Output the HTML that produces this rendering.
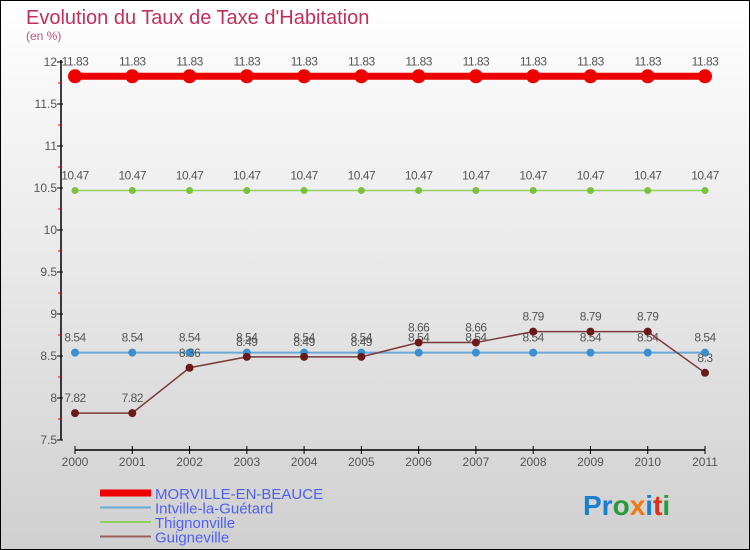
<!DOCTYPE html>
<html><head><meta charset="utf-8"><style>
html,body{margin:0;padding:0}
body{width:750px;height:550px;overflow:hidden;font-family:"Liberation Sans",sans-serif}
svg{display:block}
</style></head><body>
<svg id="chart" width="750" height="550" xmlns="http://www.w3.org/2000/svg">
<defs><linearGradient id="bg" x1="0" y1="0" x2="0" y2="1"><stop offset="0" stop-color="#ffffff"/><stop offset="1" stop-color="#d0d0d0"/></linearGradient></defs>
<rect x="0.5" y="0.5" width="749" height="549" fill="url(#bg)" stroke="#000"/>
<text x="26" y="24" font-size="20" fill="#c0305a">Evolution du Taux de Taxe d'Habitation</text>
<text x="26" y="40" font-size="12" fill="#c0507a">(en %)</text>
<g id="axes"></g>
<g id="series"></g>
<g id="legend"></g>
<text x="583" y="515" font-size="28" font-weight="bold"><tspan fill="#1a7fd0">Pr</tspan><tspan fill="#2a9a3a">o</tspan><tspan fill="#f07a10">x</tspan><tspan fill="#1a7fd0">i</tspan><tspan fill="#e03020">t</tspan><tspan fill="#2a9a3a">i</tspan></text>
</svg>
<script>
const years = ["2000","2001","2002","2003","2004","2005","2006","2007","2008","2009","2010","2011"];
const yTicks = [7.5,8,8.5,9,9.5,10,10.5,11,11.5,12];
const seriesNames = ["MORVILLE-EN-BEAUCE","Intville-la-Guétard","Thignonville","Guigneville"];
const morville = [11.83,11.83,11.83,11.83,11.83,11.83,11.83,11.83,11.83,11.83,11.83,11.83];
const intville = [8.54,8.54,8.54,8.54,8.54,8.54,8.54,8.54,8.54,8.54,8.54,8.54];
const thignonville = [10.47,10.47,10.47,10.47,10.47,10.47,10.47,10.47,10.47,10.47,10.47,10.47];
const guigneville = [7.82,7.82,8.36,8.49,8.49,8.49,8.66,8.66,8.79,8.79,8.79,8.3];

const NS="http://www.w3.org/2000/svg";
function xS(i){return 75+i*(630/(years.length-1));}
function yS(v){return 440-(v-7.5)*84;}
function mk(tag,attrs,parent){const e=document.createElementNS(NS,tag);for(const k in attrs)e.setAttribute(k,attrs[k]);parent.appendChild(e);return e;}
const axes=document.getElementById('axes');
let e=mk('line',{x1:61,y1:60,x2:61,y2:440,stroke:'#000','stroke-width':1.5},axes);


yTicks.forEach((v,i)=>{
  const t=mk('line',{x1:57,y1:yS(v),x2:63,y2:yS(v),stroke:'#000'},axes);
  
  
  if(i<yTicks.length-1){const m=mk('line',{x1:58,y1:yS(v+0.25),x2:61,y2:yS(v+0.25),stroke:'#e00'},axes);
  
  }
  const l=mk('text',{x:57,y:yS(v)+4,'font-size':12,fill:'#555','text-anchor':'end'},axes);
  l.textContent=String(v);
  
  
});
e=mk('line',{x1:75,y1:450,x2:705,y2:450,stroke:'#000','stroke-width':1.5},axes);


years.forEach((y,i)=>{
  const t=mk('line',{x1:xS(i),y1:446,x2:xS(i),y2:454,stroke:'#000'},axes);
  
  
  const l=mk('text',{x:xS(i),y:466,'font-size':12,fill:'#555','text-anchor':'middle'},axes);
  l.textContent=y;
  
  
});
const sg=document.getElementById('series');
const cfg=[
 {d:thignonville,c:'#8fd060',w:1.5,r:3.5,dot:'#7cc040',name:'thignonville'},
 {d:intville,c:'#6aaad8',w:2,r:4,dot:'#3a8fd0',name:'intville'},
 {d:guigneville,c:'#7a3a3a',w:1.5,r:4,dot:'#6a1a1a',name:'guigneville'},
 {d:morville,c:'#ee0000',w:7,r:7,dot:'#ee0000',name:'morville'}
];
cfg.forEach(s=>{
  const p=mk('polyline',{points:s.d.map((v,i)=>xS(i)+','+yS(v)).join(' '),fill:'none',stroke:s.c,'stroke-width':s.w},sg);
  
  
  s.d.forEach((v,i)=>{
    const c=mk('circle',{cx:xS(i),cy:yS(v),r:s.r,fill:s.dot},sg);
    
    
    const t=mk('text',{x:xS(i),y:yS(v)-11,'font-size':12,fill:'#555','text-anchor':'middle','letter-spacing':'-0.5'},sg);
    t.textContent=String(v);
    
    
  });
});
const lg=document.getElementById('legend');
const lc=[['#ee0000',7],['#6aaad8',2],['#8fd060',2],['#9a6060',2]];
seriesNames.forEach((n,i)=>{
  const y=493+i*14.5;
  const l=mk('line',{x1:100,y1:y,x2:151,y2:y,stroke:lc[i][0],'stroke-width':lc[i][1]},lg);
  
  
  const t=mk('text',{x:155,y:y+6,'font-size':15,fill:'#5060ee'},lg);
  t.textContent=n;
  
  
});
</script>
</body></html>
